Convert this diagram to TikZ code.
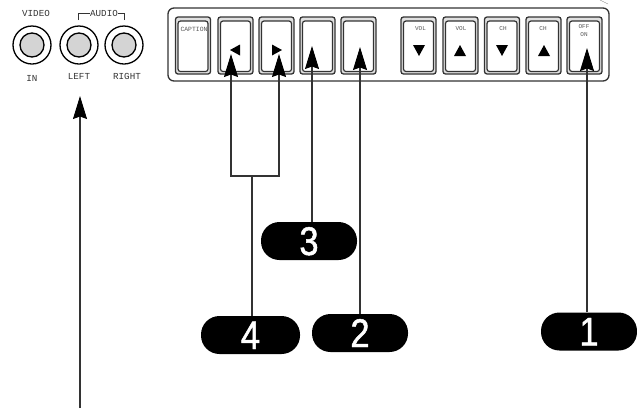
\documentclass[tikz,border=0pt]{standalone}
\usepackage{fontspec}
\setmonofont{Liberation Mono}
\newfontfamily\pillfont[FakeStretch=0.86,FakeBold=1.2]{Liberation Sans}
\usetikzlibrary{arrows.meta}
\definecolor{inkgray}{gray}{0.2}
\definecolor{jackgray}{gray}{0.83}
\tikzstyle{arrow} = [-{Stealth[length=23pt,width=14pt,inset=2.5pt,color=black]},draw=inkgray,line width=1.05pt]
\tikzstyle{pill} = [fill=black,text=white,rounded corners=18.5pt,minimum height=38pt,font=\pillfont\fontsize{40}{40}\selectfont,inner sep=0pt,text depth=0pt,text height=28pt]
\tikzstyle{button} = [draw=inkgray,line width=1.3pt,rounded corners=2.5pt,minimum width=35pt,minimum height=57pt,inner sep=0pt,fill=black!12,
  path picture={\draw[inkgray,line width=1.2pt,fill=white] ([shift={(2.5pt,2.5pt)}]path picture bounding box.south west) rectangle ([shift={(-2.5pt,-4pt)}]path picture bounding box.north east);}]
\tikzstyle{jack} = [draw=black,line width=1.3pt,circle,inner sep=0pt,minimum size=38pt]
\tikzstyle{jackcore} = [draw=black,line width=1.3pt,circle,fill=jackgray,inner sep=0pt,minimum size=24pt]
\tikzstyle{big} = [font=\ttfamily\fontsize{9.2}{9.2}\selectfont,text=inkgray,inner sep=0pt]
\tikzstyle{tiny} = [font=\ttfamily\fontsize{6}{6}\selectfont,text=black!65,inner sep=0pt]
\begin{document}
\begin{tikzpicture}[x=1pt,y=-1pt]
        \useasboundingbox (0,0) rectangle (637,408);

        % jacks
        \node[jack] at (32,45) (video) {};
        \node[jack] at (79,45) (left) {};
        \node[jack] at (124,45) (right) {};
        \node[jackcore] at (32,45) (videocore) {};
        \node[jackcore] at (79,45) (leftcore) {};
        \node[jackcore] at (124,45) (rightcore) {};
        \node[big] at (36,13) (lvideo) {VIDEO};
        \node[big] at (104,13) (laudio) {AUDIO};
        \node[big] at (32,78) (lin) {IN};
        \node[big] at (79,76) (lleft) {LEFT};
        \node[big] at (127,76) (lright) {RIGHT};
        \draw[inkgray] (78,20) |- (laudio.west);
        \draw[inkgray] (124,20) |- (laudio.east);

        % panel
        \draw[inkgray,line width=1.3pt,rounded corners=6pt] (168,8) rectangle (609,81);
        \draw[inkgray!60] (600,0) -- (608,4);
        \node[button] at (193,45.5) (caption) {};
        \node[button] at (235.5,45.5) (prev) {};
        \node[button] at (276.5,45.5) (next) {};
        \node[button] at (317.5,45.5) (blanka) {};
        \node[button] at (358.5,45.5) (blankb) {};
        \node[button] at (418.5,45.5) (voldown) {};
        \node[button] at (460.5,45.5) (volup) {};
        \node[button] at (502,45.5) (chdown) {};
        \node[button] at (543.5,45.5) (chup) {};
        \node[button] at (584.5,45.5) (power) {};

        \node[tiny,font=\ttfamily\fontsize{6.4}{6.4}\selectfont] at (194,29) (lcaption) {CAPTION};
        \node[tiny] at (420.5,29) (lvola) {VOL};
        \node[tiny] at (461,29) (lvolb) {VOL};
        \node[tiny] at (503,29) (lcha) {CH};
        \node[tiny] at (543,29) (lchb) {CH};
        \node[tiny] at (584,26.5) (loff) {OFF};
        \node[tiny] at (584,35) (lon) {ON};

        % glyphs on the buttons
        \fill (230,50) -- (240,44.5) -- (240,55.5) -- cycle;
        \fill (282,50) -- (272,44.5) -- (272,55.5) -- cycle;
        \fill (413,45) -- (425,45) -- (419,56) -- cycle;
        \fill (454,56) -- (466,56) -- (460,45) -- cycle;
        \fill (496,45) -- (508,45) -- (502,56) -- cycle;
        \fill (538,56) -- (550,56) -- (544,45) -- cycle;

        % callouts
        \node[pill,minimum width=99pt] at (250.5,335) (four) {4};
        \node[pill,minimum width=96pt] at (360,333) (two) {2};
        \node[pill,minimum width=96pt] at (309,241) (three) {3};
        \node[pill,minimum width=96pt] at (589,331.5) (one) {1};

        \coordinate (tipone) at (587,48);
        \coordinate (tiptwo) at (360,47);
        \coordinate (tipthree) at (312,46);
        \coordinate (tipfourl) at (231,54);
        \coordinate (tipfourr) at (279,54);
        \coordinate (fork) at (252,176);
        \coordinate (tipaudio) at (80,96);
        \coordinate (tailaudio) at (80,408);

        \draw[arrow] (one.north -| tipone) -- (tipone);
        \draw[arrow] (two.north) -- (tiptwo);
        \draw[arrow] (three.north -| tipthree) -- (tipthree);
        \draw[draw=inkgray,line width=1.05pt] (four.north -| fork) -- (fork);
        \draw[arrow] (fork) -- (fork -| tipfourl) -- (tipfourl);
        \draw[arrow] (fork) -- (fork -| tipfourr) -- (tipfourr);
        \draw[arrow] (tailaudio) -- (tipaudio);

      \end{tikzpicture}
\end{document}
